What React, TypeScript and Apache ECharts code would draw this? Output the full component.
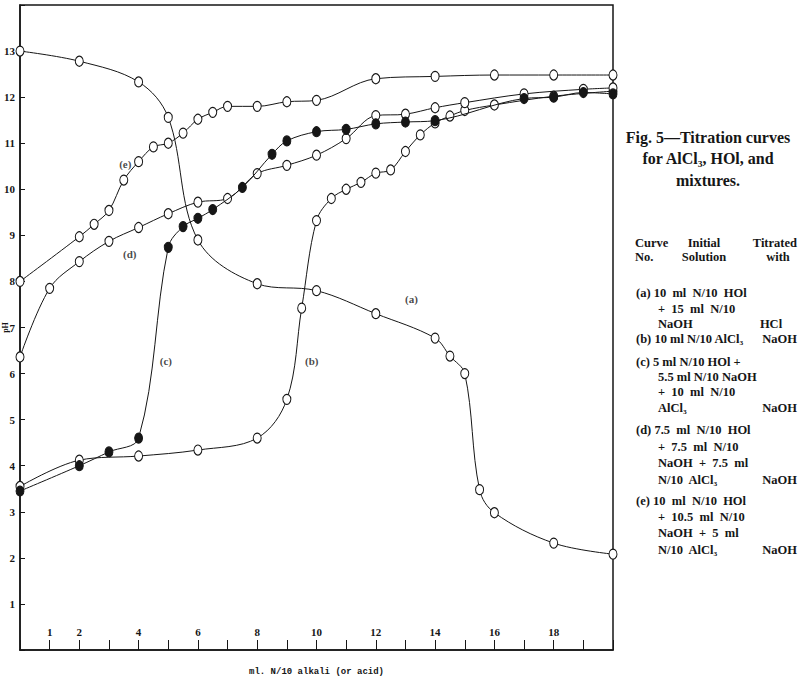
import React, { useEffect, useRef } from "react";
import * as echarts from "echarts";

// Curve (a): 10 ml N/10 HCl + 15 ml N/10 NaOH titrated with HCl
const xA = [0, 2, 4, 5, 6, 8, 10, 12, 14, 14.5, 15, 15.5, 16, 18, 20];
const yA = [13.0, 12.78, 12.33, 11.56, 8.9, 7.95, 7.8, 7.3, 6.77, 6.38, 6.0, 3.48, 2.98, 2.32, 2.08];

// Curve (b): 10 ml N/10 AlCl3 titrated with NaOH
const xB = [0, 2, 4, 6, 8, 9, 9.5, 10, 10.5, 11, 11.5, 12, 12.5, 13, 13.5, 14, 14.5, 15, 16, 18, 20];
const yB = [3.55, 4.12, 4.21, 4.34, 4.6, 5.44, 7.42, 9.32, 9.8, 10.0, 10.15, 10.35, 10.42, 10.82, 11.18, 11.44, 11.59, 11.71, 11.83, 12.02, 12.13];

// Curve (c): filled markers
const xC = [0, 2, 3, 4, 5, 5.5, 6, 6.5, 7.5, 8.5, 9, 10, 11, 12, 13, 14, 17, 18, 19, 20];
const yC = [3.45, 4.0, 4.3, 4.6, 8.74, 9.19, 9.37, 9.56, 10.04, 10.76, 11.05, 11.25, 11.3, 11.42, 11.46, 11.49, 11.97, 12.0, 12.1, 12.07];

// Curve (d)
const xD = [0, 1, 2, 3, 4, 5, 6, 7, 8, 9, 10, 11, 12, 13, 14, 15, 17, 19, 20];
const yD = [6.36, 7.85, 8.43, 8.87, 9.17, 9.47, 9.72, 9.8, 10.34, 10.52, 10.74, 11.1, 11.6, 11.63, 11.77, 11.88, 12.07, 12.17, 12.2];

// Curve (e)
const xE = [0, 2, 2.5, 3, 3.5, 4, 4.5, 5, 5.5, 6, 6.5, 7, 8, 9, 10, 12, 14, 16, 18, 20];
const yE = [8.0, 8.97, 9.24, 9.54, 10.2, 10.6, 10.92, 11.0, 11.22, 11.52, 11.67, 11.8, 11.8, 11.9, 11.93, 12.4, 12.45, 12.48, 12.48, 12.48];

// Curve name tags placed in data coordinates
const curveTags = ["(a)", "(b)", "(c)", "(d)", "(e)"];
const curveTagX = [13.2, 9.84, 4.92, 3.7, 3.55];
const curveTagY = [7.61, 6.28, 6.27, 8.6, 10.55];

const xLabelValues = [1, 2, 4, 6, 8, 10, 12, 14, 16, 18];

const titleLines = ["Fig. 5\u2014Titration curves", "for AlCl\u2083, HOl, and", "mixtures."];

const tableLeft = [
  { t: "(a) 10  ml  N/10  HOl", y: 293, ind: false },
  { t: "+  15  ml  N/10", y: 309, ind: true },
  { t: "NaOH", y: 324, ind: true },
  { t: "(b) 10 ml N/10 AlCl\u2083", y: 339, ind: false },
  { t: "(c) 5 ml N/10 HOl +", y: 362, ind: false },
  { t: "5.5 ml N/10 NaOH", y: 377, ind: true },
  { t: "+  10  ml  N/10", y: 392, ind: true },
  { t: "AlCl\u2083", y: 408, ind: true },
  { t: "(d) 7.5  ml  N/10  HOl", y: 430, ind: false },
  { t: "+  7.5  ml  N/10", y: 447, ind: true },
  { t: "NaOH  +  7.5  ml", y: 463, ind: true },
  { t: "N/10  AlCl\u2083", y: 480, ind: true },
  { t: "(e) 10  ml  N/10  HOl", y: 501, ind: false },
  { t: "+  10.5  ml  N/10", y: 517, ind: true },
  { t: "NaOH  +  5  ml", y: 533, ind: true },
  { t: "N/10  AlCl\u2083", y: 550, ind: true },
];
const tableRight = [
  { t: "HCl", y: 324 },
  { t: "NaOH", y: 339 },
  { t: "NaOH", y: 408 },
  { t: "NaOH", y: 480 },
  { t: "NaOH", y: 550 },
];

const zip = (xs: number[], ys: number[]) => xs.map((x, i) => [x, ys[i]]);

export default function App() {
  const ref = useRef<HTMLDivElement>(null);
  useEffect(() => {
    if (!ref.current) return;
    const chart = echarts.init(ref.current, null, { renderer: "svg" });
    const ink = "#161616";
    const serif = '"Liberation Serif", "DejaVu Serif", serif';
    const openMarker = {
      symbol: "circle",
      symbolSize: [8, 10],
      itemStyle: { color: "#fff", borderColor: ink, borderWidth: 1.1 },
    };
    const mkLine = (name: string, xs: number[], ys: number[], filled: boolean) => ({
      type: "line",
      name,
      data: zip(xs, ys),
      smooth: 0.35,
      lineStyle: { color: ink, width: 1 },
      ...(filled
        ? { symbol: "circle", symbolSize: [8, 10], itemStyle: { color: ink, borderColor: ink, borderWidth: 1 } }
        : openMarker),
      z: filled ? 4 : 3,
    });

    const graphics: any[] = [];
    titleLines.forEach((t, i) => {
      graphics.push({
        type: "text",
        x: 708,
        y: 137 + i * 21.5,
        style: { text: t, font: `bold 16px ${serif}`, fill: ink, align: "center", verticalAlign: "middle" },
      });
    });
    const tf = `bold 12.5px ${serif}`;
    const head = [
      { t: "Curve", x: 635, y: 243, a: "left" },
      { t: "No.", x: 635, y: 257, a: "left" },
      { t: "Initial", x: 704, y: 243, a: "center" },
      { t: "Solution", x: 704, y: 257, a: "center" },
      { t: "Titrated", x: 797, y: 243, a: "right" },
      { t: "with", x: 778, y: 257, a: "center" },
    ];
    head.forEach((h) =>
      graphics.push({
        type: "text",
        x: h.x,
        y: h.y,
        style: { text: h.t, font: tf, fill: ink, align: h.a, verticalAlign: "middle" },
      })
    );
    tableLeft.forEach((r) =>
      graphics.push({
        type: "text",
        x: r.ind ? 658 : 636,
        y: r.y,
        style: { text: r.t, font: tf, fill: ink, align: "left", verticalAlign: "middle" },
      })
    );
    tableRight.forEach((r) =>
      graphics.push({
        type: "text",
        x: r.t === "HCl" ? 771 : 797,
        y: r.y,
        style: { text: r.t, font: tf, fill: ink, align: r.t === "HCl" ? "center" : "right", verticalAlign: "middle" },
      })
    );

    chart.setOption({
      animation: false,
      backgroundColor: "#fff",
      grid: {
        left: 20,
        right: 187,
        top: 5,
        bottom: 35,
        show: true,
        borderColor: ink,
        borderWidth: 1.5,
        containLabel: false,
        outerBoundsMode: "none",
      },
      xAxis: {
        type: "value",
        min: 0,
        max: 20,
        interval: 1,
        name: "ml. N/10 alkali (or acid)",
        nameLocation: "middle",
        nameGap: 17,
        nameMoveOverlap: false,
        nameTextStyle: { fontFamily: '"Liberation Mono", "DejaVu Sans Mono", monospace', fontSize: 9, fontWeight: "bold", color: ink },
        axisLine: { show: true, onZero: false, lineStyle: { color: ink, width: 1.5 } },
        axisTick: { show: true, inside: true, length: 10, lineStyle: { color: ink, width: 1 } },
        axisLabel: {
          inside: true,
          margin: 13,
          fontFamily: serif,
          fontWeight: "bold",
          fontSize: 11,
          color: ink,
          formatter: (v: number) => (xLabelValues.includes(v) ? String(v) : ""),
        },
        splitLine: { show: false },
      },
      yAxis: {
        type: "value",
        min: 0,
        max: 14,
        interval: 1,
        name: "pH",
        nameLocation: "middle",
        nameRotate: 90,
        nameGap: 11,
        nameMoveOverlap: false,
        nameTextStyle: { fontFamily: serif, fontSize: 8, fontWeight: "bold", color: ink },
        axisLine: { show: true, onZero: false, lineStyle: { color: ink, width: 1.5 } },
        axisTick: { show: true, inside: true, length: 5, lineStyle: { color: ink, width: 1 } },
        axisLabel: {
          margin: 5,
          fontFamily: serif,
          fontWeight: "bold",
          fontSize: 11,
          color: ink,
          formatter: (v: number) => (v >= 1 && v <= 13 ? String(v) : ""),
        },
        splitLine: { show: false },
      },
      series: [
        mkLine("a", xA, yA, false),
        mkLine("b", xB, yB, false),
        mkLine("c", xC, yC, true),
        mkLine("d", xD, yD, false),
        mkLine("e", xE, yE, false),
        {
          type: "scatter",
          name: "tags",
          symbolSize: 1,
          itemStyle: { color: "rgba(0,0,0,0)" },
          data: curveTags.map((n, i) => ({ name: n, value: [curveTagX[i], curveTagY[i]] })),
          label: {
            show: true,
            position: "inside",
            formatter: "{b}",
            fontFamily: serif,
            fontWeight: "bold",
            fontSize: 11,
            color: ink,
          },
          z: 5,
        },
      ],
      graphic: graphics,
    });
    return () => chart.dispose();
  }, []);
  return <div ref={ref} style={{ position: "fixed", left: 0, top: 0, width: 800, height: 685 }} />;
}
